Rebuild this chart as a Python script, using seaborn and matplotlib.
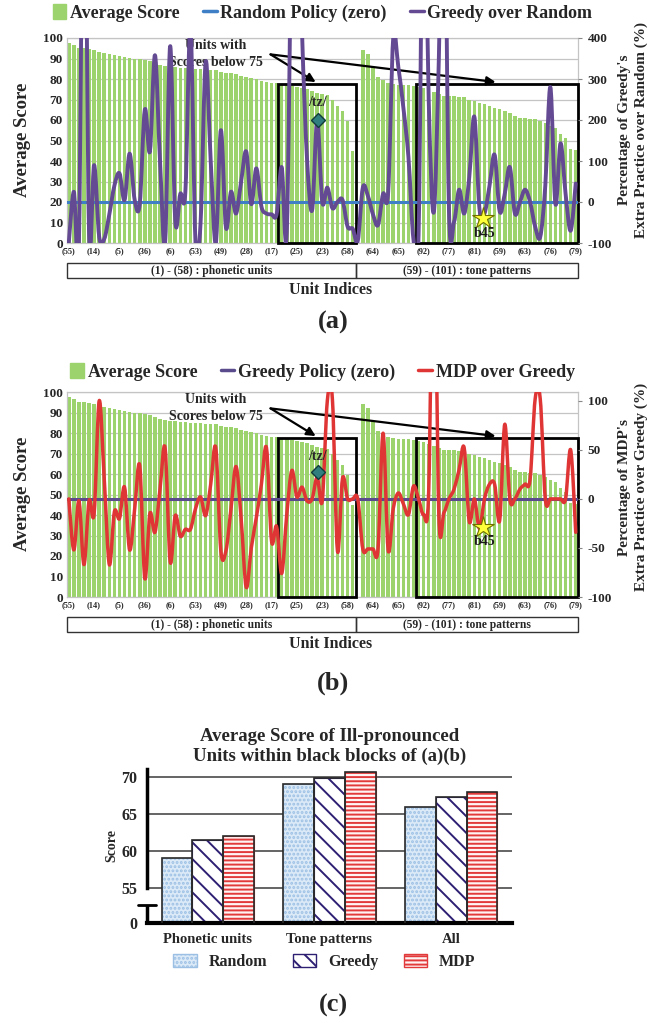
import numpy as np
import pandas as pd
import matplotlib
matplotlib.use("Agg")
import matplotlib.pyplot as plt
import seaborn as sns
from matplotlib.patches import Rectangle, PathPatch, Patch
from matplotlib.lines import Line2D
from matplotlib.path import Path
from matplotlib.transforms import blended_transform_factory

# ---------------- data ----------------
phonetic_scores = [97.7, 96.6, 95.3, 95.0, 94.5, 94.0, 93.3, 92.8, 92.3, 91.7,
                   91.2, 90.6, 90.2, 90.0, 89.6, 89.2, 88.8, 88.0, 87.0, 86.3,
                   86.0, 85.7, 85.4, 85.2, 85.0, 84.9, 84.7, 84.5, 84.3, 84.2,
                   83.6, 83.0, 82.8, 82.3, 81.5, 80.8, 80.3, 79.8, 79.2, 78.6,
                   78.2, 78.0, 77.6, 77.3, 76.6, 76.2, 75.6, 75.0, 74.0, 73.3,
                   72.5, 72.0, 70.0, 67.0, 64.4, 59.5, 45.0]
tone_scores = [94.0, 92.0, 86.0, 81.0, 79.5, 78.2, 77.7, 77.3, 77.0, 77.0,
               76.6, 76.0, 75.5, 74.5, 73.8, 72.5, 71.7, 71.5, 71.5, 71.3,
               71.0, 70.0, 69.3, 68.5, 67.7, 67.0, 66.0, 65.2, 64.4, 63.5,
               62.0, 61.2, 61.0, 60.5, 60.3, 59.5, 58.5, 57.0, 56.3, 53.0,
               51.4, 45.7, 45.2]
greedy_over_random = [-100, 25, -100, 1000, -76, 90, -85, -90, -30, 40,
                      70, 5, 118, 5, -5, 225, 123, 358, 100, -100,
                      380, -45, 20, 25, 430, -100, -50, 342, 100, -100,
                      175, -62, 25, -28, 50, 123, -5, 82, -11, -28,
                      -30, -30, 85, -75, 700, 900, 420, 105, -20, 200,
                      0, 35, -15, 0, 5, -60, -65, -95, 35, 15,
                      -30, -56, 20, 23, 400, 330, 230, 110, -92, -80,
                      900, 250, -25, 350, 900, -20, -48, 30, -28, 60,
                      208, -15, -28, 40, 115, -23, 20, 85, -28, 0,
                      30, 0, -60, -85, 40, 280, -5, 143, 20, -70,
                      45]
mdp_over_greedy = [0, -52, -2, -67, -2, -15, 100, 20, -67, -13,
                   -20, 12, -52, -10, 34, -81, -15, -34, 10, 52,
                   -64, -17, -38, -31, -31, -10, 2, -17, 15, 52,
                   -53, -53, -10, 33, -20, -90, -50, -19, 15, 52,
                   -43, -28, -76, -16, 29, 2, 12, -2, 0, 22,
                   -2, 100, 102, -53, 21, 0, 0, 0, -51, -51,
                   -51, -51, 67, -52, -10, 6, -5, -16, 13, 0,
                   -16, 8, 300, -16, -14, 0, 10, 30, 52, -23,
                   0, -30, 0, 15, 15, -22, 76, 0, 0, 10,
                   15, 20, 102, 102, 0, 0, 0, 0, 0, 50,
                   -34]
tick_units = ["(55)", "(14)", "(5)", "(36)", "(6)", "(53)", "(49)", "(28)", "(17)",
              "(25)", "(23)", "(58)", "(64)", "(65)", "(92)", "(77)", "(81)", "(59)",
              "(63)", "(76)", "(79)"]

c_groups = ["Phonetic units", "Tone patterns", "All"]
c_policies = ["Random", "Greedy", "MDP"]
c_random = [59.0, 69.0, 65.9]
c_greedy = [61.4, 69.8, 67.2]
c_mdp = [62.0, 70.6, 67.9]

# ---------------- style ----------------
sns.set_theme(style="white")
plt.rcParams["font.family"] = ["Liberation Serif", "DejaVu Serif"]
plt.rcParams["font.weight"] = "bold"
plt.rcParams["axes.labelweight"] = "bold"
plt.rcParams["hatch.linewidth"] = 1.4

GREEN = "#9DD36C"
GRID = "#C4C4C4"

n_slots = len(greedy_over_random)
slot_names = [f"u{i:03d}" for i in range(n_slots)]
gap_slot = len(phonetic_scores)
bar_slots = slot_names[:gap_slot] + slot_names[gap_slot + 1:]
df_bars = pd.DataFrame({"slot": bar_slots, "score": phonetic_scores + tone_scores})

fig = plt.figure(figsize=(6.68, 10.23), dpi=100)
W, H = 668.0, 1023.0


def smooth_path(xs, ys):
    verts = [(xs[0], ys[0])]
    codes = [Path.MOVETO]
    n = len(xs)
    for i in range(n - 1):
        i0 = max(i - 1, 0)
        i3 = min(i + 2, n - 1)
        x0, y0 = xs[i0], ys[i0]
        x1, y1 = xs[i], ys[i]
        x2, y2 = xs[i + 1], ys[i + 1]
        x3, y3 = xs[i3], ys[i3]
        c1 = (x1 + (x2 - x0) / 6.0, y1 + (y2 - y0) / 6.0)
        c2 = (x2 - (x3 - x1) / 6.0, y2 - (y3 - y1) / 6.0)
        verts += [c1, c2, (x2, y2)]
        codes += [Path.CURVE4] * 3
    return Path(verts, codes)


def draw_panel(top_px, line_vals, line_color, line_label, zero_color, zero_label,
               ylim2, yticks2, ylabel2, legend_y, star_y, star_lbl_y, diamond_y,
               panel_label, panel_label_y, right_label_y, line_w):
    ax = fig.add_axes([67 / W, 1 - (top_px + 205) / H, 511 / W, 205 / H])
    sns.barplot(data=df_bars, x="slot", y="score", order=slot_names, color=GREEN,
                width=0.7, saturation=1, errorbar=None, linewidth=0, ax=ax, zorder=2)
    ax.set_xlim(-0.35, 100.45)
    ax.set_ylim(0, 100)
    ax.set_yticks(range(0, 101, 10))
    ax.set_yticklabels([str(v) for v in range(0, 101, 10)], fontsize=9.5)
    ax.set_xticks(range(0, n_slots, 5))
    ax.set_xticklabels(tick_units, fontsize=6)
    ax.tick_params(axis="both", length=0, pad=3)
    ax.set_xlabel("")
    ax.set_ylabel("")
    ax.yaxis.grid(True, color=GRID, lw=0.9, zorder=0)
    ax.set_axisbelow(True)
    for s in ax.spines.values():
        s.set_color(GRID)
        s.set_linewidth(0.9)

    # black blocks
    for x0, x1 in [(41.3, 56.7), (68.5, 100.5)]:
        ax.add_patch(Rectangle((x0, 0), x1 - x0, 77.5, fill=False, lw=2.0,
                               edgecolor="black", zorder=5, clip_on=False))
    # annotation
    ax.text(29, 96.3, "Units with", ha="center", va="center", fontsize=10, zorder=6)
    ax.text(29, 88.0, "Scores below 75", ha="center", va="center", fontsize=10, zorder=6)
    for end in [(48.7, 78.5), (84.2, 78.5)]:
        ax.annotate("", xy=end, xytext=(39.8, 92.0),
                    arrowprops=dict(arrowstyle="-|>", lw=1.6, color="black",
                                    mutation_scale=13, shrinkA=0, shrinkB=0),
                    zorder=6)

    # category brackets under axis
    tr = blended_transform_factory(ax.transData, ax.transAxes)
    for (x0, x1), txt in [((-0.35, 56.7), "(1) - (58) : phonetic units"),
                          ((56.7, 100.45), "(59) - (101) : tone patterns")]:
        ax.add_patch(Rectangle((x0, -0.171), x1 - x0, 0.073, transform=tr, fill=False,
                               lw=1.0, edgecolor="#333333", clip_on=False))
        ax.text((x0 + x1) / 2, -0.1345, txt, transform=tr, ha="center", va="center",
                fontsize=8.3)
    ax.text(0.515, -0.229, "Unit Indices", transform=ax.transAxes, ha="center",
            va="center", fontsize=11.5)

    # secondary axis with lines
    ax2 = ax.twinx()
    ax2.set_ylim(*ylim2)
    ax2.set_yticks(yticks2)
    ax2.set_yticklabels([str(v) for v in yticks2], fontsize=9.5)
    ax2.tick_params(axis="y", length=3, width=0.8, color="#888888", pad=4)
    for s in ax2.spines.values():
        s.set_visible(False)
    ax2.grid(False)
    ax2.axhline(0, color=zero_color, lw=2.2, zorder=3)
    xs = np.arange(n_slots, dtype=float)
    path = smooth_path(xs, np.asarray(line_vals, dtype=float))
    ax2.add_patch(PathPatch(path, fill=False, edgecolor=line_color, lw=line_w, zorder=4,
                            capstyle="round", joinstyle="round"))

    # markers
    ax2.plot([49.1], [diamond_y], marker="D", markersize=7, color="#2F7F7F",
             markeredgecolor="#123c3c", transform=ax.transData, zorder=7, ls="none")
    ax2.text(49.1, 68.5, "/tz/", transform=ax.transData, ha="center", va="center",
             fontsize=10, zorder=7)
    ax2.plot([81.8], [star_y], marker="*", markersize=16, color="#FFFF3A",
             markeredgecolor="#6f6f00", mew=0.8, transform=ax.transData, zorder=7,
             ls="none")
    ax2.text(82.0, star_lbl_y, "b45", transform=ax.transData, ha="center",
             va="center", fontsize=10, zorder=7, color="#1a1a1a")

    # legend
    handles = [Patch(facecolor=GREEN, edgecolor=GREEN),
               Line2D([0], [0], color=zero_color, lw=2.5),
               Line2D([0], [0], color=line_color, lw=2.5)]
    ax2.legend(handles, ["Average Score", zero_label, line_label], loc="center",
               bbox_to_anchor=(0.5, legend_y), ncol=3, frameon=False, fontsize=13,
               handlelength=0.75, handleheight=0.85, handletextpad=0.2,
               columnspacing=1.3, borderaxespad=0)

    # axis titles
    fig.text(23 / W, 1 - (top_px + 102) / H, "Average Score", rotation=90,
             ha="center", va="center", fontsize=13.5)
    fig.text(633 / W, 1 - right_label_y / H, ylabel2, rotation=90, ha="center",
             va="center", fontsize=11, multialignment="center", linespacing=1.25)
    fig.text(333 / W, 1 - panel_label_y / H, panel_label, ha="center", va="center",
             fontsize=19)
    return ax, ax2


draw_panel(38, greedy_over_random, "#634A92", "Greedy over Random", "#3E7FC6",
           "Random Policy (zero)", (-100, 400), [-100, 0, 100, 200, 300, 400],
           "Percentage of Greedy's\nExtra Practice over Random (%)", 1.122,
           12.0, 4.5, 60.0, "(a)", 322, 130, 2.8)

draw_panel(392, mdp_over_greedy, "#E03535", "MDP over Greedy", "#5A4C8C",
           "Greedy Policy (zero)", (-100, 109), [-100, -50, 0, 50, 100],
           "Percentage of MDP's\nExtra Practice over Greedy (%)", 1.098,
           34.0, 27.0, 61.0, "(b)", 683, 487, 2.5)

# ---------------- panel (c) ----------------
axc = fig.add_axes([147 / W, 1 - 923 / H, 365 / W, 153.7 / H])
df_c = pd.DataFrame({
    "group": c_groups * 3,
    "policy": [p for p in c_policies for _ in c_groups],
    "score": c_random + c_greedy + c_mdp,
})
faces = {"Random": "#DCEAF8", "Greedy": "#FFFFFF", "MDP": "#FFF4F4"}
hatch_cols = {"Random": "#9CC0E4", "Greedy": "#2E1F73", "MDP": "#E23A3A"}
hatches = {"Random": "....", "Greedy": "\\\\", "MDP": "----"}
sns.barplot(data=df_c, x="group", y="score", hue="policy", hue_order=c_policies,
            order=c_groups, palette=faces, width=0.76, saturation=1, errorbar=None,
            legend=False, ax=axc, zorder=2)
for cont, pol in zip(axc.containers, c_policies):
    for bar in cont:
        bar.set_facecolor(faces[pol])
        bar.set_edgecolor(hatch_cols[pol])
        bar.set_hatch(hatches[pol])
        bar.set_linewidth(0.8)
        axc.add_patch(Rectangle(bar.get_xy(), bar.get_width(), bar.get_height(),
                                fill=False, edgecolor="#2a2a2a", lw=1.2, zorder=3))

axc.set_ylim(50.2, 71.0)
axc.set_xlim(-0.5, 2.5)
for v in [55, 60, 65, 70]:
    axc.axhline(v, color="#3a3a3a", lw=1.1, zorder=0.5)
axc.set_yticks([50.2, 55, 60, 65, 70])
axc.set_yticklabels(["0", "55", "60", "65", "70"], fontsize=11.5)
axc.tick_params(axis="y", length=6, width=2, direction="out", pad=1)
axc.tick_params(axis="x", length=0, pad=7)
axc.set_xticks(range(3))
axc.set_xticklabels(c_groups, fontsize=10.5)
axc.set_xlabel("")
axc.set_ylabel("")
for side in ["top", "right"]:
    axc.spines[side].set_visible(False)
axc.spines["left"].set_bounds(55, 71.0)
axc.spines["left"].set_linewidth(2.5)
axc.spines["left"].set_color("black")
axc.spines["bottom"].set_linewidth(3)
axc.spines["bottom"].set_color("black")
ytr = axc.get_yaxis_transform()
axc.plot([0, 0], [50.2, 52.7], transform=ytr, color="black", lw=2.5, clip_on=False,
         solid_capstyle="butt")
axc.plot([-0.025, 0.025], [52.7, 52.7], transform=ytr, color="black", lw=2,
         clip_on=False)
fig.text(112 / W, 1 - 846 / H, "Score", rotation=90, ha="center", va="center",
         fontsize=10)
axc.text(0.499, 1 + 23 / 153.7, "Average Score of Ill-pronounced\nUnits within black blocks of (a)(b)",
         transform=axc.transAxes, ha="center", va="center", fontsize=13.5,
         linespacing=1.2)
leg_handles = [Patch(facecolor=faces[p], edgecolor=hatch_cols[p], hatch=hatches[p], lw=1)
               for p in c_policies]
axc.legend(leg_handles, c_policies, loc="center", bbox_to_anchor=(0.486, -0.254),
           ncol=3, frameon=False, fontsize=11.5, handlelength=1.45, handleheight=0.85,
           handletextpad=0.75, columnspacing=1.6, borderaxespad=0)
fig.text(333 / W, 1 - 1005 / H, "(c)", ha="center", va="center", fontsize=19)

fig.savefig("out.png", dpi=100)
